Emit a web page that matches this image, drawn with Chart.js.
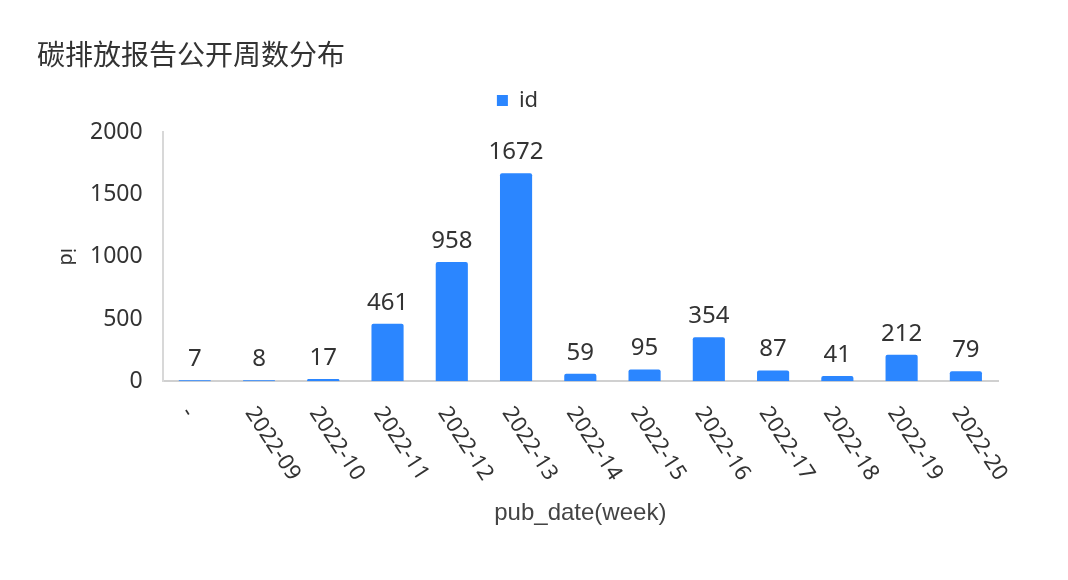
<!DOCTYPE html>
<html>
<head>
<meta charset="utf-8">
<script src="https://cdn.jsdelivr.net/npm/chart.js@4"></script>
<style>
  html, body { margin: 0; padding: 0; background: #fff; }
  #wrap { width: 1068px; height: 580px; }
</style>
</head>
<body>
<div id="wrap"><canvas id="chart"></canvas></div>
<script>
// chart data
const weeks = ["-", "2022-09", "2022-10", "2022-11", "2022-12", "2022-13", "2022-14",
  "2022-15", "2022-16", "2022-17", "2022-18", "2022-19", "2022-20"];
const idCounts = [7, 8, 17, 461, 958, 1672, 59, 95, 354, 87, 41, 212, 79];
const yTicks = [0, 500, 1000, 1500, 2000];

const FONT = "'Noto Sans', 'Noto Sans CJK SC', sans-serif";
const TEXT = "#333333";
const BLUE = "#2b86ff";

// value labels on top of each bar
const barLabels = {
  id: "barLabels",
  afterDatasetsDraw(chart) {
    const ctx = chart.ctx;
    const meta = chart.getDatasetMeta(0);
    ctx.save();
    ctx.font = "24px " + FONT;
    ctx.fillStyle = TEXT;
    ctx.textAlign = "center";
    ctx.textBaseline = "alphabetic";
    meta.data.forEach((bar, i) => {
      ctx.fillText(String(idCounts[i]), bar.x, bar.y - 14);
    });
    ctx.restore();
  }
};

// x tick labels rotated clockwise, starting at the tick;
// y title also reads top to bottom
const slantedText = {
  id: "slantedText",
  afterDraw(chart) {
    const ctx = chart.ctx;
    const xs = chart.scales.x;
    const ys = chart.scales.y;
    ctx.save();
    ctx.font = "22px " + FONT;
    ctx.fillStyle = TEXT;
    ctx.textAlign = "left";
    ctx.textBaseline = "middle";
    weeks.forEach((w, i) => {
      const x = xs.getPixelForValue(i);
      ctx.save();
      ctx.translate(x - 9, xs.top + 28);
      ctx.rotate(57 * Math.PI / 180);
      ctx.fillText(w, 0, 0);
      ctx.restore();
    });
    ctx.font = "20px " + FONT;
    ctx.textAlign = "center";
    ctx.translate(ys.left + 18 + 12, (ys.top + ys.bottom) / 2);
    ctx.rotate(Math.PI / 2);
    ctx.fillText("id", 0, 0);
    ctx.restore();
  }
};

// a bit more room under the legend
const legendGap = {
  id: "legendGap",
  beforeInit(chart) {
    const fit = chart.legend.fit;
    chart.legend.fit = function () {
      fit.call(this);
      this.height += 11;
    };
  }
};

new Chart(document.getElementById("chart"), {
  type: "bar",
  data: {
    labels: weeks,
    datasets: [{
      label: "id",
      data: idCounts,
      backgroundColor: BLUE,
      borderRadius: 2,
      barPercentage: 0.5,
      categoryPercentage: 1.0
    }]
  },
  options: {
    responsive: true,
    maintainAspectRatio: false,
    animation: false,
    layout: { padding: { left: 37, right: 70, top: 12, bottom: 52 } },
    plugins: {
      title: {
        display: true,
        text: "碳排放报告公开周数分布",
        align: "start",
        color: TEXT,
        font: { family: FONT, size: 28, weight: "normal", lineHeight: 0.8 },
        padding: { top: 34, bottom: 0 }
      },
      legend: {
        display: true,
        labels: {
          color: TEXT,
          font: { family: FONT, size: 22 },
          boxWidth: 11,
          boxHeight: 11,
          padding: 21
        }
      },
      tooltip: { enabled: false }
    },
    scales: {
      x: {
        grid: { display: false },
        border: { color: "#d0d0d0", width: 2 },
        ticks: { display: false },
        title: {
          display: true,
          text: "pub_date(week)",
          color: "#444444",
          font: { family: "'Liberation Sans', Arial, sans-serif", size: 24 },
          padding: { top: 110, bottom: 0 }
        }
      },
      y: {
        min: 0,
        max: 2000,
        afterBuildTicks(scale) {
          scale.ticks = yTicks.map(v => ({ value: v }));
        },
        grid: { display: false, drawTicks: false },
        border: { color: "#d8d8d8", width: 2 },
        ticks: {
          color: TEXT,
          font: { family: FONT, size: 23 },
          padding: 20,
          callback: v => String(v)
        },
        title: {
          // space only, the text itself is drawn by slantedText
          display: true,
          text: "id",
          color: "rgba(0,0,0,0)",
          font: { family: FONT, size: 20 },
          padding: { top: 18, bottom: -9 }
        }
      }
    }
  },
  plugins: [barLabels, slantedText, legendGap]
});
</script>
</body>
</html>
